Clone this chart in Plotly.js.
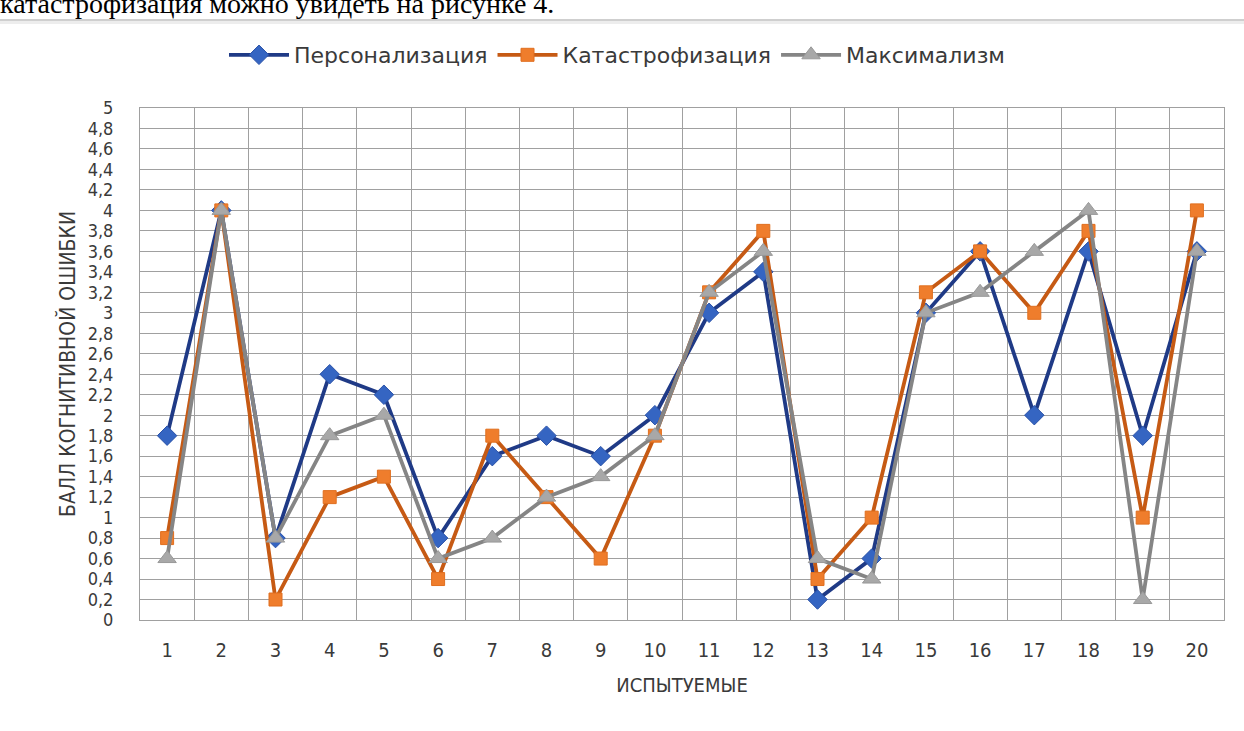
<!DOCTYPE html>
<html>
<head>
<meta charset="utf-8">
<script src="https://cdn.plot.ly/plotly-3.0.1.min.js"></script>
<style>
html,body{margin:0;padding:0;background:#fff;}
#chart{width:1244px;height:731px;}
</style>
</head>
<body>
<div id="chart"></div>
<script>
const subjects = ["1","2","3","4","5","6","7","8","9","10","11","12","13","14","15","16","17","18","19","20"];
const seriesNames = ["Персонализация","Катастрофизация","Максимализм"];
const personalization = [1.8,4.0,0.8,2.4,2.2,0.8,1.6,1.8,1.6,2.0,3.0,3.4,0.2,0.6,3.0,3.6,2.0,3.6,1.8,3.6];
const catastrophization = [0.8,4.0,0.2,1.2,1.4,0.4,1.8,1.2,0.6,1.8,3.2,3.8,0.4,1.0,3.2,3.6,3.0,3.8,1.0,4.0];
const maximalism = [0.6,4.0,0.8,1.8,2.0,0.6,0.8,1.2,1.4,1.8,3.2,3.6,0.6,0.4,3.0,3.2,3.6,4.0,0.2,3.6];
const yTitle = "БАЛЛ КОГНИТИВНОЙ ОШИБКИ";
const xTitle = "ИСПЫТУЕМЫЕ";
const captionText = "катастрофизация можно увидеть на рисунке 4.";

const FONT = "'DejaVu Sans Condensed', 'DejaVu Sans', sans-serif";
const LEGEND_FONT = "'DejaVu Sans', sans-serif";
const textColor = "#3a3a3a";

const traces = [
  {x: subjects, y: personalization, name: seriesNames[0], type: "scatter", mode: "lines+markers",
   line: {color: "#1f3a86", width: 3.8},
   marker: {symbol: "diamond", size: 15, color: "#3565c2", line: {color: "#2a52a8", width: 1}}},
  {x: subjects, y: catastrophization, name: seriesNames[1], type: "scatter", mode: "lines+markers",
   line: {color: "#c65a14", width: 3.8},
   marker: {symbol: "square", size: 13, color: "#ef7d2c", line: {color: "#e06f1f", width: 1}}},
  {x: subjects, y: maximalism, name: seriesNames[2], type: "scatter", mode: "lines+markers",
   line: {color: "#858585", width: 3.8},
   marker: {symbol: "triangle-up", size: 16, color: "#a8a8a8", line: {color: "#999999", width: 1}}}
];

const plotTop = 108, plotBottom = 620, plotLeft = 140, plotRight = 1224;
const ph = plotBottom - plotTop, pw = plotRight - plotLeft;
const py = p => (plotBottom - p) / ph;
const px = p => (p - plotLeft) / pw;

const layout = {
  width: 1244, height: 731,
  margin: {l: plotLeft, r: 1244 - plotRight, t: plotTop, b: 731 - plotBottom, pad: 0},
  paper_bgcolor: "#ffffff", plot_bgcolor: "#ffffff",
  separators: ", ",
  showlegend: true,
  font: {family: FONT, color: textColor, size: 20},
  legend: {orientation: "h", x: px(224), xanchor: "left", y: py(55), yanchor: "middle",
           font: {family: LEGEND_FONT, size: 22, color: textColor}, itemwidth: 60,
           bgcolor: "rgba(0,0,0,0)", traceorder: "normal"},
  xaxis: {type: "category", range: [-0.5, 19.5], tickson: "boundaries", showgrid: true,
          gridcolor: "#a0a0a0", gridwidth: 1,
          showline: true, linecolor: "#a0a0a0", linewidth: 1, mirror: true,
          ticks: "", ticklabelstandoff: 12, tickfont: {family: FONT, size: 20, color: textColor},
          title: {text: xTitle, font: {family: FONT, size: 20, color: textColor}, standoff: 16},
          automargin: false, fixedrange: true},
  yaxis: {range: [0, 5], tick0: 0, dtick: 0.2, showgrid: true, gridcolor: "#a0a0a0", gridwidth: 1,
          showline: true, linecolor: "#a0a0a0", linewidth: 1, mirror: true, zeroline: false,
          ticks: "", ticklabelstandoff: 22, tickfont: {family: FONT, size: 18, color: textColor},
          title: {text: yTitle, font: {family: FONT, size: 21, color: textColor}, standoff: 6},
          automargin: false, fixedrange: true},
  shapes: [
    {type: "line", xref: "paper", yref: "paper", x0: px(0), x1: px(1244), y0: py(20), y1: py(20),
     line: {color: "#cfcfcf", width: 2}},
    {type: "line", xref: "paper", yref: "paper", x0: px(0), x1: px(1244), y0: py(22.5), y1: py(22.5),
     line: {color: "#ededed", width: 3}}
  ],
  annotations: [
    {text: captionText, xref: "paper", yref: "paper", x: px(-2), xanchor: "left",
     y: py(21), yanchor: "bottom", showarrow: false,
     font: {family: "'Liberation Serif', 'Times New Roman', serif", size: 28, color: "#000000"}}
  ]
};

Plotly.newPlot("chart", traces, layout, {staticPlot: true, displayModeBar: false});
</script>
</body>
</html>
